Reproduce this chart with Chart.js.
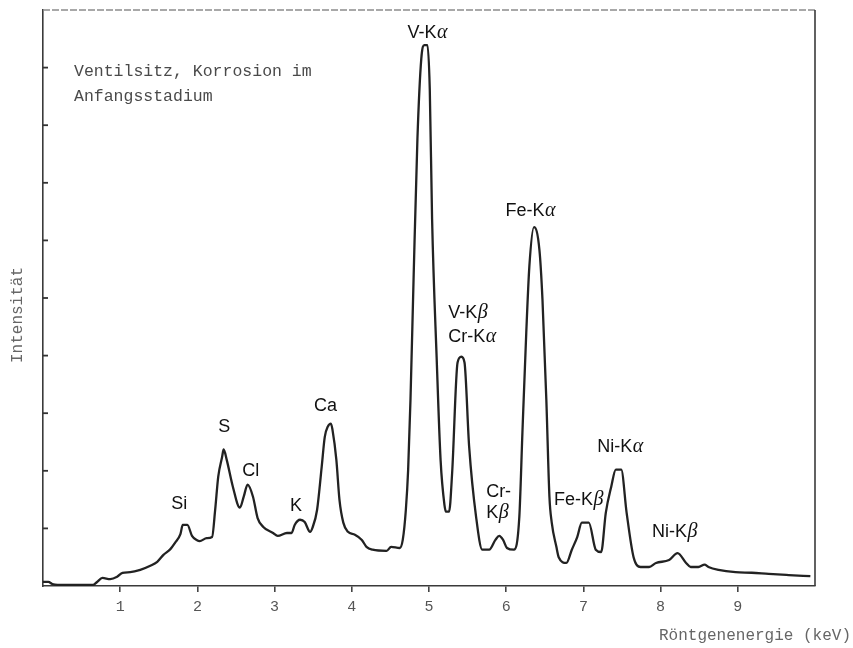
<!DOCTYPE html>
<html lang="de">
<head>
    <meta charset="UTF-8">
    <title>Ventilsitz, Korrosion im Anfangsstadium</title>
    <style>
        body {
            margin: 0;
            padding: 0;
            background: #fff;
        }
        #wrap {
            width: 853px;
            height: 648px;
        }
    </style>
    <script src="https://cdn.jsdelivr.net/npm/chart.js"></script>
</head>
<body>
    <div id="wrap">
        <canvas id="spectrum" width="853" height="648"></canvas>
    </div>
    <script>
        // Spectrum (keV / relative intensity)
        const energy = [0.00, 0.07, 0.12, 0.19, 0.35, 0.65, 0.70, 0.77, 0.87, 0.96, 1.03, 1.13, 1.26, 1.39, 1.48, 1.56, 1.65, 1.71, 1.78, 1.81,
            1.87, 1.93, 1.99, 2.03, 2.12, 2.19, 2.23, 2.27, 2.32, 2.34, 2.38, 2.46, 2.55, 2.60, 2.65, 2.72, 2.78, 2.85, 2.98, 3.04,
            3.16, 3.22, 3.26, 3.33, 3.39, 3.46, 3.49, 3.55, 3.61, 3.65, 3.69, 3.73, 3.75, 3.80, 3.84, 3.89, 3.95, 4.04, 4.13, 4.19,
            4.27, 4.45, 4.51, 4.62, 4.66, 4.70, 4.73, 4.76, 4.80, 4.85, 4.90, 4.94, 4.98, 5.01, 5.04, 5.10, 5.15, 5.20, 5.22, 5.26,
            5.30, 5.37, 5.42, 5.46, 5.52, 5.61, 5.69, 5.78, 5.86, 5.91, 5.96, 6.01, 6.10, 6.17, 6.21, 6.26, 6.30, 6.36, 6.43, 6.47,
            6.52, 6.56, 6.59, 6.65, 6.68, 6.78, 6.85, 6.92, 6.98, 7.07, 7.16, 7.23, 7.29, 7.36, 7.42, 7.49, 7.56, 7.65, 7.74, 7.85,
            7.94, 8.11, 8.22, 8.33, 8.39, 8.49, 8.57, 8.62, 8.75, 8.97, 9.18, 9.40, 9.66, 9.94];
        const intensity = [0.07, 0.07, 0.035, 0.02, 0.02, 0.02, 0.07, 0.14, 0.12, 0.16, 0.23, 0.24, 0.28, 0.35, 0.42, 0.54, 0.64, 0.75, 0.90, 1.06,
            1.06, 0.87, 0.80, 0.78, 0.83, 0.85, 1.32, 1.90, 2.24, 2.37, 2.19, 1.72, 1.36, 1.55, 1.76, 1.55, 1.18, 1.03, 0.92, 0.87,
            0.92, 0.92, 1.06, 1.15, 1.11, 0.94, 1.01, 1.32, 2.07, 2.59, 2.77, 2.82, 2.71, 2.19, 1.50, 1.10, 0.94, 0.89, 0.80, 0.68,
            0.63, 0.61, 0.68, 0.66, 0.80, 1.32, 2.02, 3.23, 5.32, 7.76, 9.15, 9.39, 9.39, 8.63, 6.37, 3.93, 2.19, 1.41, 1.29, 1.29,
            1.97, 3.88, 3.98, 3.88, 2.42, 1.20, 0.63, 0.63, 0.80, 0.87, 0.80, 0.66, 0.63, 1.20, 2.66, 4.40, 5.55, 6.23, 5.84, 4.97,
            3.23, 1.55, 1.10, 0.68, 0.50, 0.40, 0.63, 0.85, 1.10, 1.10, 0.63, 0.59, 1.27, 1.72, 2.02, 2.02, 1.27, 0.50, 0.33, 0.33,
            0.40, 0.45, 0.57, 0.40, 0.33, 0.33, 0.37, 0.33, 0.28, 0.24, 0.23, 0.21, 0.19, 0.17];

        // axis ticks
        const xTicks = [1, 2, 3, 4, 5, 6, 7, 8, 9];
        const yTicks = [1, 2, 3, 4, 5, 6, 7, 8, 9];

        // peak labels: text, left edge (keV), baseline (intensity)
        const peakNames = ['V-Kα', 'Fe-Kα', 'V-Kβ', 'Cr-Kα', 'Ca', 'S', 'Cl', 'Si', 'K', 'Cr-', 'Kβ', 'Fe-Kβ', 'Ni-Kα', 'Ni-Kβ'];
        const peakX = [4.72, 5.99, 5.25, 5.25, 3.51, 2.27, 2.58, 1.66, 3.20, 5.74, 5.74, 6.62, 7.18, 7.89];
        const peakY = [9.51, 6.42, 4.66, 4.23, 3.04, 2.68, 1.91, 1.34, 1.30, 1.55, 1.18, 1.41, 2.33, 0.85];

        const noteLines = ['Ventilsitz, Korrosion im', 'Anfangsstadium'];

        const typewriter = '"Liberation Mono", "DejaVu Sans Mono", monospace';

        function drawPeakLabel(ctx, text, px, py) {
            let main = text, greek = '';
            const last = text.slice(-1);
            if (last === 'α' || last === 'β') {
                main = text.slice(0, -1);
                greek = last;
            }
            ctx.font = '18px "Liberation Sans", Arial, sans-serif';
            ctx.fillText(main, px, py);
            if (greek) {
                const w = ctx.measureText(main).width;
                ctx.font = 'italic 20px "Liberation Serif", "DejaVu Serif", serif';
                ctx.fillText(greek, px + w + 0.5, py);
            }
        }

        const paperPlugin = {
            id: 'paper',
            afterDraw(chart) {
                const { ctx, chartArea: a } = chart;
                const x = chart.scales.x, y = chart.scales.y;
                ctx.save();

                // faint top edge and right frame line
                ctx.strokeStyle = '#8c8c8c';
                ctx.lineWidth = 1.3;
                ctx.setLineDash([7, 2]);
                ctx.beginPath();
                ctx.moveTo(a.left, a.top);
                ctx.lineTo(a.right, a.top);
                ctx.stroke();
                ctx.setLineDash([]);

                ctx.strokeStyle = '#3a3a3a';
                ctx.lineWidth = 1.6;
                ctx.beginPath();
                ctx.moveTo(a.right, a.top);
                ctx.lineTo(a.right, a.bottom);
                ctx.stroke();

                // inward ticks on intensity axis
                ctx.strokeStyle = '#333';
                ctx.lineWidth = 1.8;
                yTicks.forEach(v => {
                    const py = y.getPixelForValue(v);
                    ctx.beginPath();
                    ctx.moveTo(a.left, py);
                    ctx.lineTo(a.left + 5, py);
                    ctx.stroke();
                });

                // peak labels
                ctx.fillStyle = '#111';
                ctx.textAlign = 'left';
                ctx.textBaseline = 'alphabetic';
                peakNames.forEach((name, i) => {
                    drawPeakLabel(ctx, name, x.getPixelForValue(peakX[i]), y.getPixelForValue(peakY[i]));
                });

                // typed note
                ctx.fillStyle = '#4a4a4a';
                ctx.font = '16.5px ' + typewriter;
                ctx.fillText(noteLines[0], a.left + 31, a.top + 66);
                ctx.fillText(noteLines[1], a.left + 31, a.top + 91);

                // axis titles
                ctx.fillStyle = '#666';
                ctx.font = '16px ' + typewriter;
                ctx.textAlign = 'right';
                ctx.textBaseline = 'middle';
                ctx.fillText('Röntgenenergie (keV)', 851, 636);

                ctx.translate(18, 315);
                ctx.rotate(-Math.PI / 2);
                ctx.textAlign = 'center';
                ctx.fillText('Intensität', 0, 0);
                ctx.restore();
            }
        };

        const ctx = document.getElementById('spectrum').getContext('2d');
        const chart = new Chart(ctx, {
            type: 'line',
            data: {
                datasets: [{
                    label: 'Spektrum',
                    data: energy.map((e, i) => ({ x: e, y: intensity[i] })),
                    borderColor: '#222',
                    borderWidth: 2.3,
                    pointRadius: 0,
                    cubicInterpolationMode: 'monotone',
                    fill: false
                }]
            },
            options: {
                responsive: false,
                animation: false,
                layout: {
                    padding: { left: 43, right: 38, top: 10, bottom: 22 }
                },
                plugins: {
                    legend: { display: false },
                    tooltip: { enabled: false }
                },
                scales: {
                    x: {
                        type: 'linear',
                        min: 0,
                        max: 10,
                        afterFit(scale) { scale.height = 40; },
                        afterBuildTicks(scale) {
                            scale.ticks = [0].concat(xTicks, [10]).map(v => ({ value: v }));
                        },
                        border: { display: true, color: '#3a3a3a', width: 1.6 },
                        grid: {
                            drawOnChartArea: false,
                            tickLength: 6,
                            lineWidth: 1.6,
                            color: c => (c.tick && (c.tick.value === 0 || c.tick.value === 10)) ? 'rgba(0,0,0,0)' : '#444'
                        },
                        ticks: {
                            padding: 6,
                            color: '#555',
                            font: { family: typewriter, size: 15 },
                            callback: v => (v > 0 && v < 10) ? String(v) : ''
                        }
                    },
                    y: {
                        type: 'linear',
                        min: 0,
                        max: 10,
                        afterFit(scale) { scale.width = 0; },
                        border: { display: true, color: '#3a3a3a', width: 1.6 },
                        grid: { display: false },
                        ticks: { display: false }
                    }
                }
            },
            plugins: [paperPlugin]
        });
    </script>
</body>
</html>
